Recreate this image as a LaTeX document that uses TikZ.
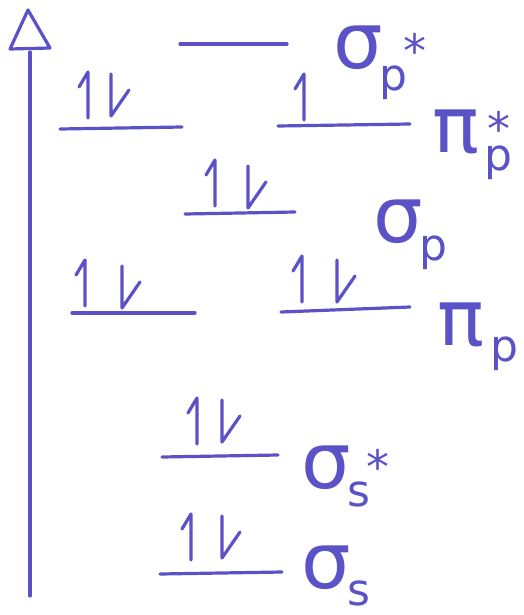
\documentclass[tikz,border=0pt]{standalone}
\usepackage{fontspec}
\setmainfont{DejaVu Sans}
\begin{document}
\begin{tikzpicture}[x=1pt,y=-1pt,
  ink/.style={draw=moc,line width=3.2pt,line cap=round,line join=round},
  lvl/.style={ink},
  glyph/.style={text=moc,inner sep=0pt,font=\fontsize{78}{78}\selectfont},
  subg/.style={text=moc,inner sep=0pt,font=\fontsize{44}{44}\selectfont},
  star/.style={text=moc,inner sep=0pt,font=\fontsize{46}{46}\selectfont}]
\definecolor{moc}{RGB}{92,82,200}
\useasboundingbox (0,0) rectangle (524,615);
% axis
\coordinate (ab) at (30,596);
\coordinate (at) at (30,52);
\draw[ink] (ab) -- (at);
\draw[ink] (28,10) -- (10,49) -- (50,48) -- cycle;
% up and down electron macros
\newcommand{\eup}[2]{\draw[ink] (#1,#2) -- (#1,#2-46) -- (#1-9,#2-31);}
\newcommand{\edn}[2]{\draw[ink] (#1,#2-42) -- (#1,#2) -- (#1+18,#2-26);}
% sigma p*
\coordinate (l1a) at (180,44); \coordinate (l1b) at (287,44);
\draw[lvl] (l1a) -- (l1b);
\node[glyph] (s1) at (358,48) {σ};
\node[subg,anchor=north west] (s1p) at ([xshift=-4pt,yshift=-18pt]s1.east) {p};
\node[star,anchor=south west] (s1s) at ([xshift=-4pt,yshift=-2pt]s1p.north east) {*};
% pi p* left
\coordinate (l2a) at (60,129); \coordinate (l2b) at (182,127);
\draw[lvl] (l2a) -- (l2b);
\eup{88}{118} \edn{111}{116}
% pi p* right
\coordinate (l3a) at (278,126); \coordinate (l3b) at (410,124);
\draw[lvl] (l3a) -- (l3b);
\eup{304}{120}
\node[glyph] (s2) at (456,132) {π};
\node[subg,anchor=north west] (s2p) at ([xshift=5pt,yshift=-14pt]s2.east) {p};
\node[star,anchor=south] (s2s) at ([yshift=0pt]s2p.north) {*};
% sigma p
\coordinate (l4a) at (185,214); \coordinate (l4b) at (295,212);
\draw[lvl] (l4a) -- (l4b);
\eup{215}{206} \edn{248}{208}
\node[glyph] (s3) at (398,222) {σ};
\node[subg,anchor=north west] (s3p) at ([xshift=-4pt,yshift=-14pt]s3.east) {p};
% pi p left
\coordinate (l5a) at (72,313); \coordinate (l5b) at (195,313);
\draw[lvl] (l5a) -- (l5b);
\eup{85}{306} \edn{122}{308}
% pi p right
\coordinate (l6a) at (281,312); \coordinate (l6b) at (410,307);
\draw[lvl] (l6a) -- (l6b);
\eup{302}{302} \edn{337}{302}
\node[glyph] (s4) at (461,325) {π};
\node[subg,anchor=north west] (s4p) at ([xshift=6pt,yshift=-12pt]s4.east) {p};
% sigma s*
\coordinate (l7a) at (162,457); \coordinate (l7b) at (278,455);
\draw[lvl] (l7a) -- (l7b);
\eup{197}{444} \edn{222}{442}
\node[glyph] (s5) at (326,468) {σ};
\node[subg,anchor=north west] (s5p) at ([xshift=-4pt,yshift=-14pt]s5.east) {s};
\node[star,anchor=south west] (s5s) at ([xshift=-4pt,yshift=-2pt]s5p.north east) {*};
% sigma s
\coordinate (l8a) at (160,574); \coordinate (l8b) at (282,572);
\draw[lvl] (l8a) -- (l8b);
\eup{191}{560} \edn{222}{558}
\node[glyph] (s6) at (326,568) {σ};
\node[subg,anchor=north west] (s6p) at ([xshift=-4pt,yshift=-13pt]s6.east) {s};
\end{tikzpicture}
\end{document}
